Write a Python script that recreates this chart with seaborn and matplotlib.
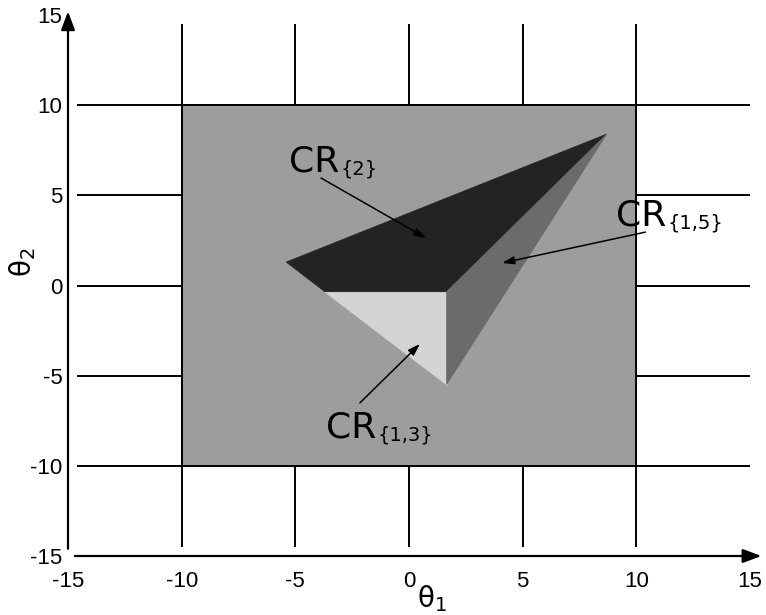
import matplotlib
matplotlib.use("Agg")
import matplotlib.pyplot as plt
import seaborn as sns

# Axis ticks and labels
tick_values = [-15, -10, -5, 0, 5, 10, 15]
tick_labels = ["-15", "-10", "-5", "0", "5", "10", "15"]
grid_values = [-10, -5, 0, 5, 10]

# Parameter space (shaded square)
space_x = [-10, 10, 10, -10]
space_y = [-10, -10, 10, 10]

# Critical regions (polygon vertices in theta1, theta2)
cr2_x = [-5.4, 8.7, 1.65, -3.7]
cr2_y = [1.3, 8.4, -0.35, -0.35]
cr13_x = [-3.7, 1.65, 1.65]
cr13_y = [-0.35, -0.35, -5.5]
cr15_x = [1.65, 8.7, 1.65]
cr15_y = [-0.35, 8.4, -5.5]

# Region labels: name, subscript, text anchor, arrow start, arrow tip
labels = [
    ("CR", "{2}", (-5.28, 6.34), (-3.87, 5.96), (0.75, 2.63)),
    ("CR", "{1,5}", (9.11, 3.35), (10.4, 2.96), (4.1, 1.25)),
    ("CR", "{1,3}", (-3.65, -8.45), (-2.16, -6.51), (0.48, -3.24)),
]

sns.set_theme(style="white")
plt.rcParams["font.family"] = ["Liberation Sans", "DejaVu Sans"]
plt.rcParams["mathtext.fontset"] = "dejavusans"
plt.rcParams["text.color"] = "black"

fig = plt.figure(figsize=(7.66, 6.15), dpi=100)
ax = fig.add_axes([68 / 766, 59 / 615, 682 / 766, 541 / 615])
ax.set_xlim(-15, 15)
ax.set_ylim(-15, 15)
for s in ax.spines.values():
    s.set_visible(False)

# Grid lines
ax.vlines(grid_values, -14.5, 14.5, colors="black", lw=1.4, zorder=1)
ax.hlines(grid_values, -14.6, 15, colors="black", lw=1.4, zorder=1)

# Shaded parameter space
ax.fill(space_x, space_y, facecolor="#9d9d9d", edgecolor="black", lw=1.4, zorder=2)

# Critical regions
ax.fill(cr2_x, cr2_y, facecolor="#232323", edgecolor="#232323", lw=0.5, zorder=3)
ax.fill(cr13_x, cr13_y, facecolor="#d4d4d4", edgecolor="#d4d4d4", lw=0.5, zorder=3)
ax.fill(cr15_x, cr15_y, facecolor="#6b6b6b", edgecolor="#6b6b6b", lw=0.5, zorder=3)

# Coordinate axes with arrowheads
arrow_kw = dict(arrowstyle="-|>,head_length=0.8,head_width=0.3", color="black",
                lw=1.6, mutation_scale=14, shrinkA=0, shrinkB=0)
ax.annotate("", xy=(-15, 15.2), xytext=(-15, -14.6), arrowprops=arrow_kw,
            annotation_clip=False, zorder=6)
ax.annotate("", xy=(15.5, -15), xytext=(-14.7, -15), arrowprops=arrow_kw,
            annotation_clip=False, zorder=6)

# Ticks
ax.set_xticks(tick_values)
ax.set_xticklabels(tick_labels)
ax.set_yticks(tick_values)
ax.set_yticklabels(tick_labels)
ax.tick_params(axis="both", length=0, labelsize=16, colors="black")
ax.tick_params(axis="x", pad=11)
ax.tick_params(axis="y", pad=4)

# Axis labels
ax.text(0.534, -0.078, r"$\mathrm{\theta}_1$", transform=ax.transAxes, ha="center",
        va="center", fontsize=20)
ax.text(-0.067, 0.543, r"$\mathrm{\theta}_2$", transform=ax.transAxes, ha="center",
        va="center", fontsize=20, rotation=90)

# Region labels with arrows
for name, sub, pos, start, tip in labels:
    t = ax.text(pos[0], pos[1], name, fontsize=26, family="DejaVu Sans",
                ha="left", va="baseline", zorder=7)
    ax.annotate(sub, xy=(1, 0), xycoords=t, xytext=(1, 0),
                textcoords="offset points", fontsize=14, family="DejaVu Sans",
                ha="left", va="bottom", zorder=7)
    ax.annotate("", xy=tip, xytext=start,
                arrowprops=dict(arrowstyle="-|>,head_length=0.6,head_width=0.2",
                                color="black", lw=1.1, mutation_scale=12,
                                shrinkA=0, shrinkB=0),
                zorder=7)

fig.savefig("out.png", dpi=100)
